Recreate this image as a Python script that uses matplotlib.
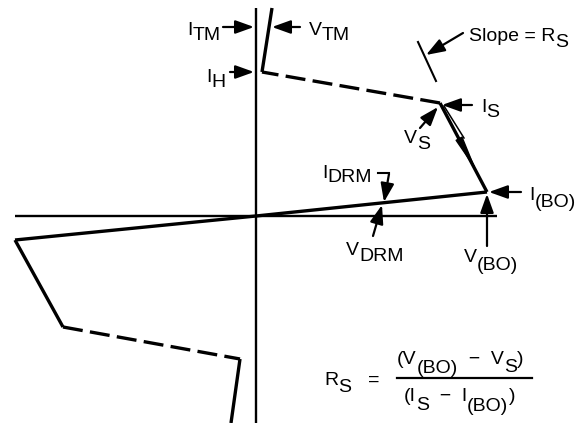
import matplotlib
matplotlib.use("Agg")
import matplotlib.pyplot as plt

plt.rcParams['font.family'] = ['Liberation Sans', 'DejaVu Sans']

W, H = 582, 423

# ---- characteristic curve vertices (diagram pixel space, y downward) ----
axis_v_x = [256, 256]; axis_v_y = [8, 423]
axis_h_x = [15, 497];  axis_h_y = [216, 216]

blocking_x = [15, 256, 487];  blocking_y = [240, 216, 192]
negres_x = [487, 440];        negres_y = [192, 103]
holding_x = [440, 262];       holding_y = [103, 72]
onstate_x = [262, 272];       onstate_y = [72, 8]
rev_neg_x = [15, 63];         rev_neg_y = [240, 327]
rev_hold_x = [63, 240];       rev_hold_y = [327, 359]
rev_on_x = [240, 231];        rev_on_y = [359, 423]

slope_tick_x = [418, 436];    slope_tick_y = [42, 81]
slope_par_x = [444, 464];     slope_par_y = [106, 138]

# arrows: (tail, head)
arrows = [
    ((223, 27), (254, 27)),   # I_TM
    ((300, 27), (272, 27)),   # V_TM
    ((230, 72), (254, 72)),   # I_H
    ((463, 33), (426, 55)),   # Slope
    ((472, 105), (442, 105)), # I_S
    ((420, 128), (438, 107)), # V_S
    ((389, 174), (384, 202)), # I_DRM
    ((373, 236), (382, 205)), # V_DRM
    ((521, 192), (489, 192)), # I_(BO)
    ((487, 246), (487, 194)), # V_(BO)
]
negres_arrow = ((463, 146), (477, 172))
idrm_hook_x = [378, 389]; idrm_hook_y = [173, 173]

# labels: (x_left, baseline, [(text, dy), ...])
labels = [
    (187, 35, [("I", 0), ("TM", 5)]),
    (309, 35, [("V", 0), ("TM", 5)]),
    (206, 82, [("I", 0), ("H", 5)]),
    (469, 41, [("Slope = R", 0), ("S", 6)]),
    (481, 112, [("I", 0), ("S", 5)]),
    (404, 143, [("V", 0), ("S", 6)]),
    (322, 178, [("I", 0), ("DRM", 4)]),
    (346, 255, [("V", 0), ("DRM", 6)]),
    (529, 200, [("I", 0), ("(BO)", 7)]),
    (464, 262, [("V", 0), ("(BO)", 8)]),
    (324, 385, [("R", 0), ("S", 7)]),
    (368, 385, [("=", 0)]),
    (397, 364, [("(V", 0), ("(BO)", 9), ("  \u2212  V", 0), ("S", 8), (")", 0)]),
    (404, 401, [("(I", 0), ("S", 9), ("  \u2212  I", 0), ("(BO)", 10), (")", 0)]),
]
frac_x = [397, 532]; frac_y = [378, 378]

fig = plt.figure(figsize=(W / 100, H / 100), dpi=100)
ax = fig.add_axes([0, 0, 1, 1])
ax.set_xlim(0, W)
ax.set_ylim(H, 0)
ax.axis('off')

k = 'black'
ax.plot(axis_v_x, axis_v_y, color=k, lw=1.7, solid_capstyle='butt')
ax.plot(axis_h_x, axis_h_y, color=k, lw=1.7, solid_capstyle='butt')

main_lw = 2.4
for xs, ys in [(blocking_x, blocking_y), (negres_x, negres_y), (onstate_x, onstate_y),
               (rev_neg_x, rev_neg_y), (rev_on_x, rev_on_y)]:
    ax.plot(xs, ys, color=k, lw=main_lw, solid_joinstyle='miter', solid_capstyle='butt')
for xs, ys in [(holding_x, holding_y), (rev_hold_x, rev_hold_y)]:
    ax.plot(xs, ys, color=k, lw=main_lw, dashes=(6, 2.2), dash_capstyle='butt')

ax.plot(slope_tick_x, slope_tick_y, color=k, lw=1.5)
ax.plot(slope_par_x, slope_par_y, color=k, lw=1.1)
ax.plot(idrm_hook_x, idrm_hook_y, color=k, lw=1.5)

for (t, h) in arrows:
    ax.annotate('', xy=h, xytext=t,
                arrowprops=dict(arrowstyle='-|>,head_length=0.75,head_width=0.27',
                                lw=1.6, color=k, shrinkA=0, shrinkB=0, mutation_scale=15))
t, h = negres_arrow
ax.annotate('', xy=h, xytext=t,
            arrowprops=dict(arrowstyle='-|>,head_length=1.5,head_width=0.16',
                            lw=1.0, color=k, shrinkA=0, shrinkB=0, mutation_scale=15))

ax.plot(frac_x, frac_y, color=k, lw=1.6)

fs = 14
fig.canvas.draw()
r = fig.canvas.get_renderer()
for x0, y0, parts in labels:
    x = x0
    for s, dy in parts:
        t = ax.text(x, y0 + dy, s, fontsize=fs, ha='left', va='baseline', color=k)
        bb = t.get_window_extent(renderer=r)
        x += bb.width

fig.savefig('out.png', dpi=100)
